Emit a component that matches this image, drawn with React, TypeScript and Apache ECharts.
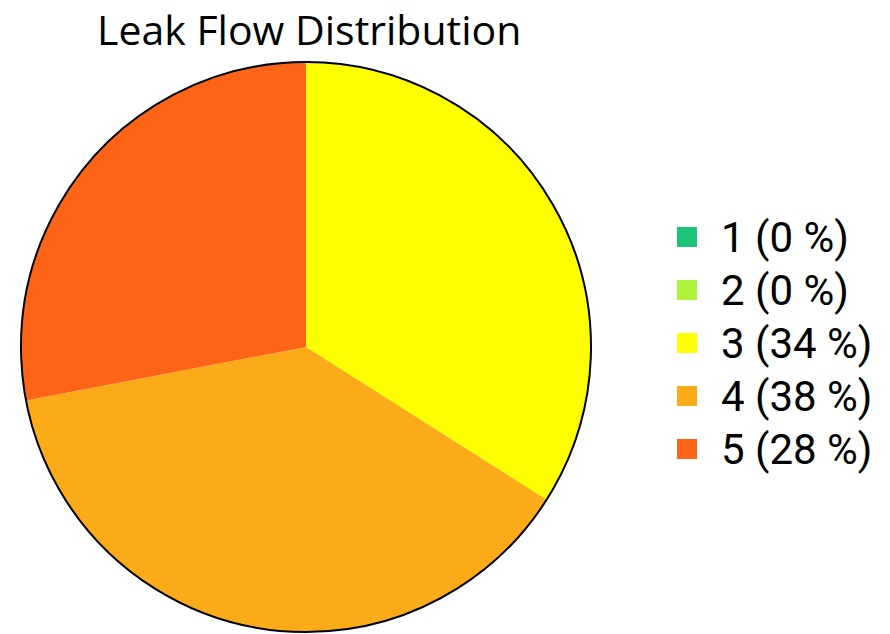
import React, { useEffect, useRef } from "react";
import * as echarts from "echarts";

const titleText = "Leak Flow Distribution";
const categories = ["1", "2", "3", "4", "5"];
const values = [0, 0, 34, 38, 28];
const colors = ["#1cc47a", "#aef23a", "#ffff00", "#fbaa18", "#fd6418"];

export default function App() {
  const ref = useRef<HTMLDivElement>(null);
  useEffect(() => {
    if (!ref.current) return;
    const chart = echarts.init(ref.current, undefined, { renderer: "svg" });
    const total = values.reduce((a, b) => a + b, 0);
    const font = "Roboto";
    chart.setOption({
      animation: false,
      backgroundColor: "#ffffff",
      title: {
        text: titleText,
        left: 97,
        top: 8,
        padding: 0,
        textStyle: { fontFamily: "Open Sans", fontSize: 41, fontWeight: "normal", color: "#000" },
      },
      legend: {
        orient: "vertical",
        left: 677,
        top: 216,
        padding: 0,
        itemWidth: 20,
        itemHeight: 20,
        itemGap: 11,
        icon: "rect",
        data: categories,
        textStyle: {
          fontFamily: font,
          fontSize: 42,
          lineHeight: 42,
          color: "#000",
          padding: [0, 0, 0, 19],
        },
        formatter: (name: string) => {
          const i = categories.indexOf(name);
          const pct = Math.round((values[i] / total) * 100);
          return `${name} (${pct} %)`;
        },
      },
      series: [
        {
          type: "pie",
          center: [306, 347],
          radius: 285,
          startAngle: 90,
          clockwise: true,
          label: { show: false },
          labelLine: { show: false },
          emphasis: { disabled: true },
          itemStyle: { borderWidth: 0 },
          data: categories.map((c, i) => ({
            name: c,
            value: values[i],
            itemStyle: { color: colors[i] },
          })),
        },
        {
          type: "pie",
          center: [306, 347],
          radius: 285,
          silent: true,
          label: { show: false },
          labelLine: { show: false },
          legendHoverLink: false,
          data: [
            {
              name: "outline",
              value: 1,
              itemStyle: { color: "none", borderColor: "#000", borderWidth: 2 },
            },
          ],
        },
      ],
    });
    return () => chart.dispose();
  }, []);
  return (
    <div
      ref={ref}
      style={{ position: "fixed", left: 0, top: 0, width: 890, height: 634 }}
    />
  );
}
